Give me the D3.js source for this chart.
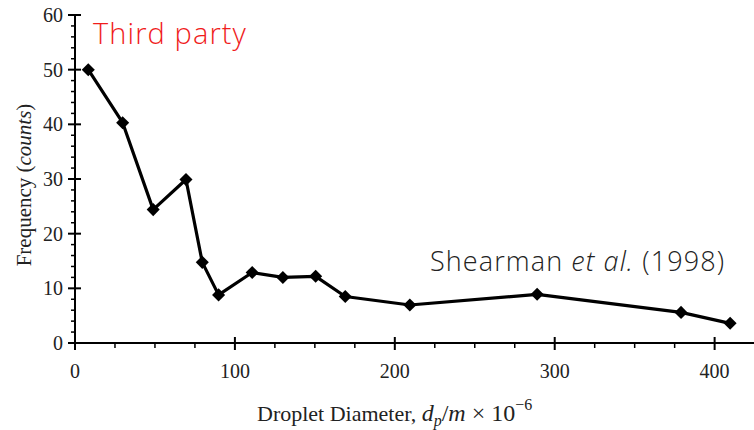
<!DOCTYPE html>
<html><head><meta charset="utf-8">
<script src="https://cdn.jsdelivr.net/npm/d3@7"></script>
<style>body{margin:0;background:#fff}</style>
</head><body>
<script>
const diameters = [8.3, 29.8, 48.9, 69.4, 79.6, 89.8, 110.8, 130, 150.5, 169, 209.4, 289, 379, 409.7];
const frequencies = [50, 40.3, 24.4, 29.9, 14.75, 8.8, 12.9, 12, 12.2, 8.5, 6.95, 8.9, 5.6, 3.6];
const xTicks = [0, 100, 200, 300, 400];
const yTicks = [0, 10, 20, 30, 40, 50, 60];

const W = 754, H = 430;
const svg = d3.select("body").append("svg").attr("width", W).attr("height", H);
const x = d3.scaleLinear().domain([0, 424]).range([75, 753]);
const y = d3.scaleLinear().domain([0, 60]).range([343, 15]);
const serif = "'Liberation Serif','Times New Roman',serif";

// y axis
const ya = svg.append("g");
ya.append("line").attr("x1", x(0)).attr("x2", x(0)).attr("y1", y(0)).attr("y2", y(60)-1).attr("stroke","#000").attr("stroke-width",2);
ya.selectAll(".ymin").data(d3.range(0, 61, 2).filter(v => v % 10 !== 0)).join("line")
  .attr("x1", x(0)-4).attr("x2", x(0)).attr("y1", d=>y(d)).attr("y2", d=>y(d)).attr("stroke","#000").attr("stroke-width",1.5);
ya.selectAll(".ymaj").data(yTicks).join("line")
  .attr("x1", x(0)-7).attr("x2", x(0)+6).attr("y1", d=>y(d)).attr("y2", d=>y(d)).attr("stroke","#000").attr("stroke-width",2);
ya.selectAll("text").data(yTicks).join("text")
  .attr("x", 63).attr("y", d=>y(d)).attr("dy","0.35em").attr("text-anchor","end")
  .attr("font-family", serif).attr("font-size", 20).attr("fill","#222").text(d=>d);

// x axis
const xa = svg.append("g");
xa.append("line").attr("x1", x(0)).attr("x2", 754).attr("y1", y(0)).attr("y2", y(0)).attr("stroke","#000").attr("stroke-width",2);
xa.selectAll(".xmin").data(d3.range(25, 425, 25).filter(v => v % 100 !== 0)).join("line")
  .attr("x1", d=>x(d)).attr("x2", d=>x(d)).attr("y1", y(0)).attr("y2", y(0)+5).attr("stroke","#000").attr("stroke-width",1.5);
xa.selectAll(".xmaj").data(xTicks).join("line")
  .attr("x1", d=>x(d)).attr("x2", d=>x(d)).attr("y1", y(0)-6).attr("y2", y(0)+7).attr("stroke","#000").attr("stroke-width",2);
xa.selectAll("text").data(xTicks).join("text")
  .attr("x", d=>x(d)).attr("y", 378).attr("text-anchor","middle")
  .attr("font-family", serif).attr("font-size", 20).attr("fill","#222").text(d=>d);

// axis labels
const yl = svg.append("text").attr("transform","translate(31,185) rotate(-90)").attr("text-anchor","middle")
  .attr("font-family", serif).attr("font-size", 21).attr("fill","#222");
yl.append("tspan").text("Frequency (");
yl.append("tspan").attr("font-style","italic").text("counts");
yl.append("tspan").text(")");

const xl = svg.append("text").attr("x", 257).attr("y", 421).attr("text-anchor","start")
  .attr("font-family", serif).attr("font-size", 22).attr("fill","#222");
xl.append("tspan").text("Droplet Diameter, ");
xl.append("tspan").attr("font-style","italic").attr("font-size",24).text("d");
xl.append("tspan").attr("font-style","italic").attr("font-size",16).attr("dy",5).text("p");
xl.append("tspan").attr("dy",-5).attr("font-size",24).text("/");
xl.append("tspan").attr("font-style","italic").attr("font-size",24).text("m");
xl.append("tspan").attr("font-size",24).text(" × 10");
xl.append("tspan").attr("font-size",16).attr("dy",-11).text("−6");

// line
const pts = diameters.map((d,i)=>[d, frequencies[i]]);
svg.append("path").datum(pts)
  .attr("d", d3.line().x(d=>x(d[0])).y(d=>y(d[1])))
  .attr("fill","none").attr("stroke","#000").attr("stroke-width",3.2).attr("stroke-linejoin","round");
svg.selectAll(".mk").data(pts).join("path")
  .attr("d", d3.symbol(d3.symbolSquare, 85)).attr("transform", d=>`translate(${x(d[0])},${y(d[1])}) rotate(45)`)
  .attr("fill","#000");

// annotations
svg.append("text").attr("x", 93).attr("y", 44).attr("font-family","'Open Sans'").attr("font-weight",300)
  .attr("font-size", 29).attr("letter-spacing", 1.1).attr("fill","#f01c1c").text("Third party");
const sh = svg.append("text").attr("x", 430).attr("y", 271).attr("font-family","'Open Sans'").attr("font-weight",300)
  .attr("font-size", 27).attr("letter-spacing", 1.1).attr("fill","#222");
sh.append("tspan").text("Shearman ");
sh.append("tspan").attr("font-style","italic").text("et al.");
sh.append("tspan").text(" (1998)");
</script>
</body></html>
